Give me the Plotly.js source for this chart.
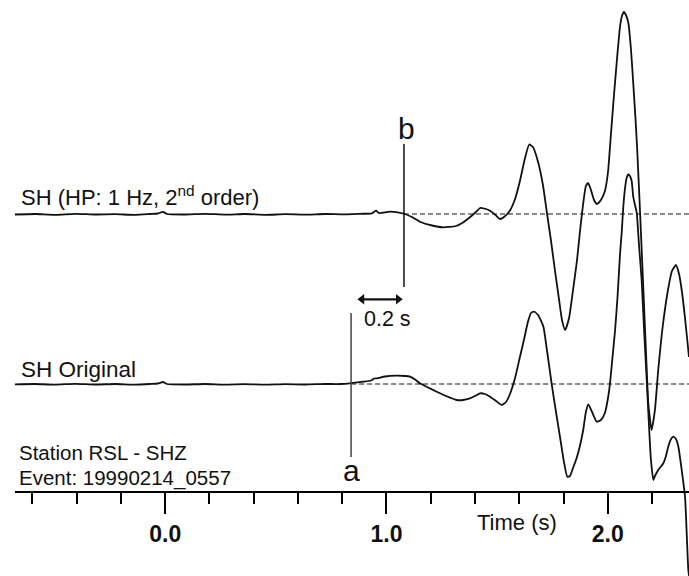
<!DOCTYPE html>
<html>
<head>
<meta charset="utf-8">
<script src="https://cdn.plot.ly/plotly-3.0.1.min.js"></script>
<style>html,body{margin:0;padding:0;background:#fff;}#chart{width:689px;height:576px;}</style>
</head>
<body>
<div id="chart"></div>
<script>
// ---- Data (time in s, amplitude in arbitrary units, up = positive)
const timeHP = [-0.679,-0.588,-0.498,-0.408,-0.317,-0.227,-0.136,-0.069,-0.033,-0.010,0.008,0.089,0.180,0.270,0.361,0.451,0.541,0.632,0.722,0.812,0.880,0.934,0.953,0.966,1.016,1.075,1.115,1.151,1.206,1.255,1.314,1.346,1.377,1.404,1.423,1.441,1.468,1.495,1.513,1.531,1.558,1.581,1.603,1.626,1.645,1.662,1.685,1.707,1.725,1.743,1.761,1.780,1.793,1.807,1.825,1.843,1.861,1.874,1.888,1.901,1.911,1.924,1.938,1.951,1.969,1.987,2.001,2.014,2.028,2.042,2.055,2.064,2.073,2.082,2.093,2.105,2.115,2.125,2.133,2.146,2.159,2.176,2.183,2.198,2.213,2.228,2.249,2.272,2.290,2.308,2.322,2.334,2.349,2.367];
const ampHP = [-0.05,0,-0.08,0.02,-0.05,-0.02,-0.08,0,0.05,0.22,0,-0.05,0.02,-0.06,0,-0.08,-0.02,-0.06,0,-0.04,0.02,0.07,0.33,0.10,0.23,0.05,-0.30,-0.77,-1.15,-1.33,-1.20,-0.85,-0.33,0.20,0.60,0.55,0.33,-0.15,-0.50,-0.30,0.35,1.50,3.30,5.60,6.95,6.70,5.20,2.90,0.10,-2.60,-5.60,-8.60,-10.60,-11.60,-10.40,-7.60,-4.60,-1.80,0.90,2.80,3.10,2.40,1.40,1.00,1.40,2.30,4.20,7.90,11.90,15.60,18.70,19.80,20.20,19.90,19.10,16.40,13.10,9.60,6.40,0.10,-6.60,-15.60,-18.90,-21.60,-19.60,-15.60,-11.10,-7.60,-5.70,-5.10,-6.00,-7.60,-10.40,-14.30];

const timeOrig = [-0.679,-0.588,-0.498,-0.408,-0.317,-0.227,-0.136,-0.069,-0.033,-0.010,0.008,0.089,0.180,0.270,0.361,0.451,0.541,0.632,0.722,0.790,0.835,0.894,0.930,0.944,0.957,0.993,1.046,1.084,1.106,1.129,1.151,1.188,1.227,1.269,1.317,1.346,1.377,1.400,1.423,1.445,1.468,1.495,1.521,1.540,1.558,1.581,1.603,1.621,1.639,1.653,1.667,1.685,1.709,1.725,1.746,1.766,1.784,1.802,1.817,1.829,1.843,1.859,1.874,1.889,1.901,1.912,1.929,1.950,1.969,1.987,2.001,2.010,2.021,2.033,2.044,2.055,2.063,2.070,2.078,2.085,2.093,2.100,2.108,2.115,2.123,2.131,2.141,2.153,2.164,2.176,2.186,2.195,2.206,2.213,2.228,2.251,2.263,2.273,2.286,2.296,2.308,2.319,2.334,2.349,2.364,2.372];
const ampOrig = [-0.03,0,-0.06,0.02,-0.05,0,-0.06,0,0.05,0.20,0,-0.05,0,-0.06,-0.02,-0.07,-0.02,-0.05,0,0,0.07,0.23,0.35,0.55,0.57,0.75,0.83,0.80,0.73,0.45,0.07,-0.35,-0.77,-1.20,-1.60,-1.60,-1.43,-1.20,-0.93,-1.00,-1.27,-1.70,-2.10,-1.80,-1.00,0.60,2.70,4.40,6.20,7.10,7.23,6.90,5.73,3.40,0.07,-2.80,-5.30,-7.80,-9.27,-9.20,-8.40,-7.43,-6.20,-4.60,-2.80,-2.03,-2.80,-3.77,-3.60,-2.90,-1.40,0.07,2.60,5.40,8.70,12.90,15.20,17.70,19.60,20.60,20.95,20.80,20.30,18.73,17.90,17.10,13.90,10.40,5.40,0.40,-4.10,-7.60,-9.60,-9.20,-8.60,-7.93,-7.20,-6.27,-5.50,-5.27,-5.50,-6.27,-8.60,-11.27,-18.60,-20.0];

const traceNames = ['SH (HP: 1 Hz, 2<sup>nd</sup> order)', 'SH Original'];
const traceOffsets = [17, 0];          // vertical offset of each trace baseline
const pickTimes = [0.840, 1.079];      // picks a (original) and b (filtered)
const pickLabels = ['a', 'b'];
const tickVals = [0, 1, 2];
const tickText = ['0.0', '1.0', '2.0'];
const infoLines = ['Station RSL - SHZ', 'Event: 19990214_0557'];
const scaleBarTimes = [0.889, 1.053];  // 0.2 s scale bar (arrowhead centres)
const scaleBarLabel = '0.2 s';
const scaleBarLevel = 8.47;

// ---- Layout helpers (pixel -> paper fractions)
const W = 689, H = 576;
const px = x => x / W;
const py = y => 1 - y / H;
const FONT = 'Liberation Sans, Arial, Helvetica, sans-serif';
const INK = '#111111';

const traces = [
  {x: timeHP, y: ampHP.map(v => v + traceOffsets[0]), mode: 'lines',
   line: {color: INK, width: 1.8, shape: 'spline', smoothing: 0.5}, hoverinfo: 'skip'},
  {x: timeOrig, y: ampOrig.map(v => v + traceOffsets[1]), mode: 'lines',
   line: {color: INK, width: 1.8, shape: 'spline', smoothing: 0.5}, hoverinfo: 'skip'},
  {x: scaleBarTimes, y: scaleBarTimes.map(() => scaleBarLevel), mode: 'lines+markers',
   line: {color: INK, width: 2.2},
   marker: {symbol: ['triangle-left', 'triangle-right'], size: 9, color: INK},
   cliponaxis: false, hoverinfo: 'skip'}
];

const xEnd = 2.37;
const shapes = [
  {type: 'line', xref: 'x', yref: 'y', x0: pickTimes[1], x1: xEnd, y0: traceOffsets[0], y1: traceOffsets[0],
   line: {color: '#8a8a8a', width: 2, dash: '5px,3px'}, layer: 'below'},
  {type: 'line', xref: 'x', yref: 'y', x0: pickTimes[0], x1: xEnd, y0: traceOffsets[1], y1: traceOffsets[1],
   line: {color: '#8a8a8a', width: 2, dash: '5px,3px'}, layer: 'below'},
  {type: 'line', xref: 'x', yref: 'y', x0: pickTimes[0], x1: pickTimes[0], y0: 7.1, y1: -7.3,
   line: {color: '#444', width: 1.5}},
  {type: 'line', xref: 'x', yref: 'y', x0: pickTimes[1], x1: pickTimes[1], y0: 24.0, y1: 9.7,
   line: {color: '#111', width: 1.5}},
  {type: 'line', xref: 'paper', yref: 'paper', x0: px(15), x1: 1, y0: py(492), y1: py(492),
   line: {color: '#000', width: 2}}
];

const annotations = [
  {text: traceNames[0], xref: 'paper', yref: 'paper', x: px(19), y: py(196), xanchor: 'left', yanchor: 'middle',
   showarrow: false, font: {family: FONT, size: 22, color: INK}},
  {text: traceNames[1], xref: 'paper', yref: 'paper', x: px(19), y: py(369), xanchor: 'left', yanchor: 'middle',
   showarrow: false, font: {family: FONT, size: 22.5, color: INK}},
  {text: infoLines[0], xref: 'paper', yref: 'paper', x: px(17), y: py(452), xanchor: 'left', yanchor: 'middle',
   showarrow: false, font: {family: FONT, size: 20.5, color: INK}},
  {text: infoLines[1], xref: 'paper', yref: 'paper', x: px(17), y: py(478), xanchor: 'left', yanchor: 'middle',
   showarrow: false, font: {family: FONT, size: 20.5, color: INK}},
  {text: pickLabels[0], xref: 'x', yref: 'paper', x: pickTimes[0], y: py(470), xanchor: 'center', yanchor: 'middle',
   showarrow: false, font: {family: FONT, size: 30, color: INK}},
  {text: pickLabels[1], xref: 'x', yref: 'paper', x: pickTimes[1] + 0.01, y: py(128), xanchor: 'center', yanchor: 'middle',
   showarrow: false, font: {family: FONT, size: 30, color: INK}},
  {text: scaleBarLabel, xref: 'paper', yref: 'paper', x: px(387), y: py(319), xanchor: 'center', yanchor: 'middle',
   showarrow: false, font: {family: FONT, size: 21.5, color: INK}},
  {text: 'Time (s)', xref: 'paper', yref: 'paper', x: px(517), y: py(522), xanchor: 'center', yanchor: 'middle',
   showarrow: false, font: {family: FONT, size: 22, color: INK}}
];

const layout = {
  width: W, height: H,
  margin: {l: 0, r: 0, t: 0, b: 0, pad: 0},
  paper_bgcolor: '#fff', plot_bgcolor: '#fff',
  showlegend: false,
  xaxis: {
    range: [-0.7465, 2.367], anchor: 'free', position: py(492), side: 'bottom',
    showline: false, zeroline: false, showgrid: false, automargin: false,
    ticks: 'outside', ticklen: 21, tickwidth: 2, tickcolor: '#000',
    tickvals: tickVals, ticktext: tickText,
    tickfont: {family: FONT, size: 23, color: INK, weight: 'bold'},
    minor: {dtick: 0.2, tick0: 0, ticks: 'outside', ticklen: 11, tickwidth: 2, tickcolor: '#000', showgrid: false},
    fixedrange: true
  },
  yaxis: {range: [-19.2, 38.4], visible: false, fixedrange: true},
  shapes: shapes,
  annotations: annotations
};

Plotly.newPlot('chart', traces, layout, {staticPlot: true, displayModeBar: false});
</script>
</body>
</html>
